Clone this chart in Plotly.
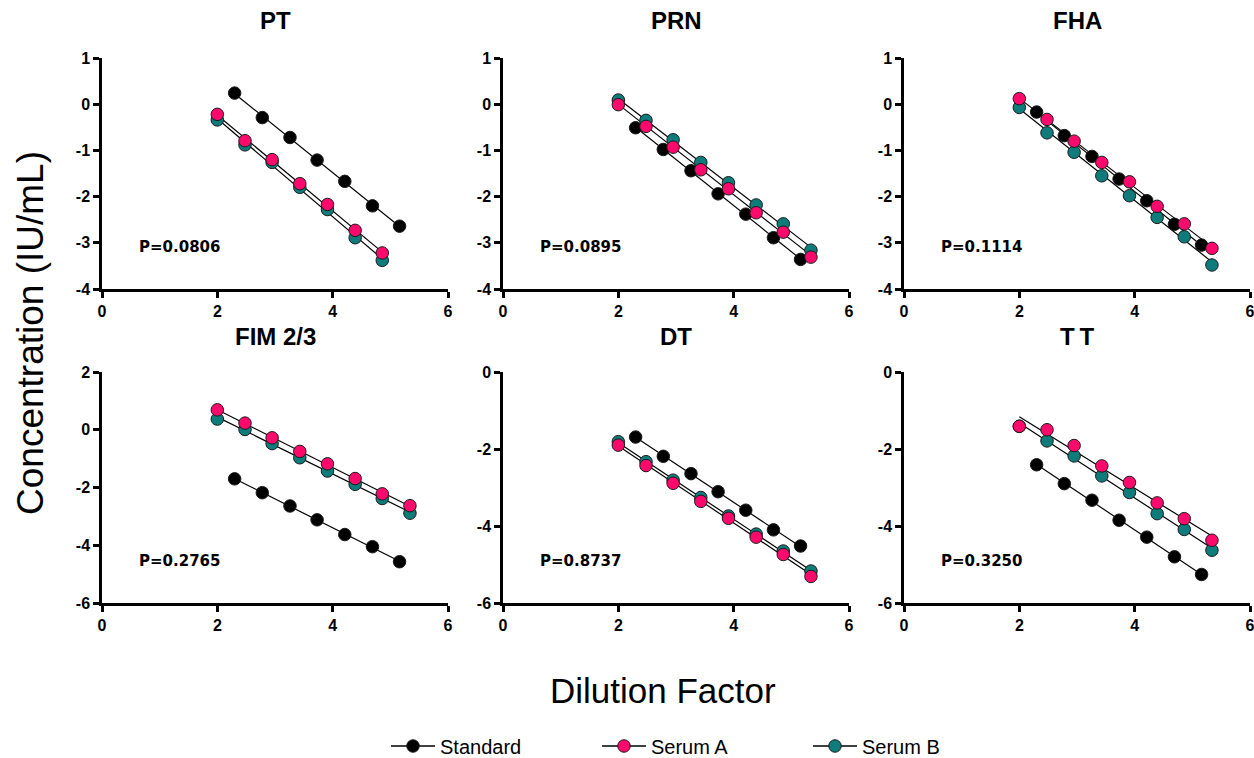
import numpy as np
import plotly.graph_objects as go

# Log10 dilution positions
std_x = [2.30, 2.78, 3.26, 3.73, 4.21, 4.69, 5.16]
serum_x = [2.00, 2.48, 2.95, 3.43, 3.91, 4.39, 4.86, 5.34]

panels = ["PT", "PRN", "FHA", "FIM 2/3", "DT", "TT"]
panel_titles = ["PT", "PRN", "FHA", "FIM 2/3", "DT", "T\u2009T"]
p_values = ["P=0.0806", "P=0.0895", "P=0.1114", "P=0.2765", "P=0.8737", "P=0.3250"]

# Concentration (log IU/mL) per antigen
standard = {
    "PT":      [0.24, -0.29, -0.72, -1.21, -1.67, -2.20, -2.64],
    "PRN":     [-0.51, -0.98, -1.44, -1.94, -2.38, -2.89, -3.36],
    "FHA":     [-0.17, -0.68, -1.13, -1.62, -2.09, -2.60, -3.05],
    "FIM 2/3": [-1.70, -2.18, -2.64, -3.12, -3.63, -4.05, -4.57],
    "DT":      [-1.69, -2.19, -2.64, -3.11, -3.59, -4.10, -4.52],
    "TT":      [-2.41, -2.90, -3.33, -3.85, -4.29, -4.80, -5.26],
}
serum_a = {
    "PT":      [-0.22, -0.79, -1.20, -1.72, -2.17, -2.73, -3.22],
    "PRN":     [-0.01, -0.48, -0.93, -1.42, -1.83, -2.35, -2.77, -3.31],
    "FHA":     [0.12, -0.33, -0.80, -1.26, -1.68, -2.21, -2.59, -3.12],
    "FIM 2/3": [0.69, 0.23, -0.28, -0.75, -1.18, -1.69, -2.22, -2.63],
    "DT":      [-1.90, -2.43, -2.89, -3.36, -3.80, -4.29, -4.74, -5.31],
    "TT":      [-1.41, -1.50, -1.91, -2.44, -2.87, -3.40, -3.81, -4.37],
}
serum_b = {
    "PT":      [-0.34, -0.88, -1.26, -1.80, -2.28, -2.89, -3.38],
    "PRN":     [0.09, -0.35, -0.77, -1.26, -1.70, -2.18, -2.59, -3.16],
    "FHA":     [-0.07, -0.62, -1.04, -1.55, -1.98, -2.45, -2.87, -3.48],
    "FIM 2/3": [0.37, 0.01, -0.48, -0.97, -1.43, -1.89, -2.38, -2.89],
    "DT":      [-1.81, -2.33, -2.81, -3.26, -3.74, -4.21, -4.65, -5.17],
    "TT":      [-1.41, -1.79, -2.18, -2.70, -3.13, -3.68, -4.09, -4.63],
}

x_ticks = [0, 2, 4, 6]
y_ticks = {"PT": [-4, -3, -2, -1, 0, 1], "PRN": [-4, -3, -2, -1, 0, 1],
           "FHA": [-4, -3, -2, -1, 0, 1], "FIM 2/3": [-6, -4, -2, 0, 2],
           "DT": [-6, -4, -2, 0], "TT": [-6, -4, -2, 0]}

COLORS = {"Standard": "#000000", "Serum A": "#FF0A6C", "Serum B": "#0E7C7B"}
FONT = "Arial, Liberation Sans, sans-serif"
P_FONT = "DejaVu Sans, Arial, sans-serif"

W, H = 1254, 758
col_px = [(102, 448), (503, 849), (904, 1250)]
row_px = [(58, 289), (372, 603)]

fig = go.Figure()
layout_axes = {}

for i, name in enumerate(panels):
    r, c = divmod(i, 3)
    n = i + 1
    xa = "x" if n == 1 else f"x{n}"
    ya = "y" if n == 1 else f"y{n}"
    x0, x1 = col_px[c]
    ytop, ybot = row_px[r]
    common = dict(
        showline=True, linewidth=2.5, linecolor="black", ticks="outside",
        ticklen=6, tickwidth=2.5, tickcolor="black", showgrid=False, zeroline=False,
        automargin=False, ticklabeloverflow="allow",
        tickfont=dict(family=FONT, size=16, color="black", weight="bold"),
    )
    yt = y_ticks[name]
    layout_axes[f"xaxis{'' if n == 1 else n}"] = dict(
        domain=[x0 / W, x1 / W], anchor=ya, range=[x_ticks[0], x_ticks[-1]],
        tickvals=x_ticks, ticktext=[str(v) for v in x_ticks], **common)
    layout_axes[f"yaxis{'' if n == 1 else n}"] = dict(
        domain=[1 - ybot / H, 1 - ytop / H], anchor=xa, range=[yt[0], yt[-1]],
        tickvals=yt, ticktext=[str(v) for v in yt], **common)

    series = [("Standard", std_x, standard[name]),
              ("Serum B", serum_x[:len(serum_b[name])], serum_b[name]),
              ("Serum A", serum_x[:len(serum_a[name])], serum_a[name])]

    # regression lines beneath the points
    for label, xs, ys in series:
        slope, icpt = np.polyfit(xs, ys, 1)
        lx = [min(xs), max(xs)]
        fig.add_trace(go.Scatter(
            x=lx, y=[slope * v + icpt for v in lx], mode="lines",
            line=dict(color="black", width=1.2), xaxis=xa, yaxis=ya,
            showlegend=False, hoverinfo="skip"))
    for label, xs, ys in series:
        fig.add_trace(go.Scatter(
            x=xs, y=ys, mode="markers", name=label,
            marker=dict(size=12.5, color=COLORS[label],
                        line=dict(color="#1a1a1a", width=1)),
            xaxis=xa, yaxis=ya, showlegend=False))

    fig.add_annotation(
        text=f"<b>{panel_titles[i]}</b>", xref=f"{xa} domain", yref="paper",
        x=0.5, y=1 - (20 if r == 0 else 336) / H, xanchor="center", yanchor="middle",
        showarrow=False, font=dict(family=FONT, size=24, color="black"))
    fig.add_annotation(
        text=f"<b>{p_values[i]}</b>", xref=f"{xa} domain", yref=f"{ya} domain",
        x=0.1, y=0.18, xanchor="left", yanchor="middle",
        showarrow=False, font=dict(family=P_FONT, size=15, color="black"))

# legend entries
for rank, label in enumerate(["Standard", "Serum A", "Serum B"]):
    fig.add_trace(go.Scatter(
        x=[None], y=[None], mode="lines+markers", name=label, legendrank=rank,
        line=dict(color="black", width=1.5),
        marker=dict(size=12.5, color=COLORS[label], line=dict(color="#1a1a1a", width=1)),
        xaxis="x", yaxis="y"))

fig.add_annotation(text="Concentration (IU/mL)", xref="paper", yref="paper",
                   x=31 / W, y=1 - 333 / H, textangle=-90, showarrow=False,
                   xanchor="center", yanchor="middle",
                   font=dict(family=FONT, size=37, color="black"))
fig.add_annotation(text="Dilution Factor", xref="paper", yref="paper",
                   x=663 / W, y=1 - 690 / H, showarrow=False,
                   xanchor="center", yanchor="middle",
                   font=dict(family=FONT, size=35, color="black"))

fig.update_layout(
    width=W, height=H, margin=dict(l=0, r=0, t=0, b=0, autoexpand=False),
    paper_bgcolor="white", plot_bgcolor="white",
    showlegend=True,
    legend=dict(orientation="h", x=386 / W, xanchor="left", y=1 - 746 / H,
                yanchor="middle", font=dict(family=FONT, size=20, color="black"),
                entrywidth=152, entrywidthmode="pixels", itemwidth=44),
    **layout_axes,
)

fig.write_html("out.html")
